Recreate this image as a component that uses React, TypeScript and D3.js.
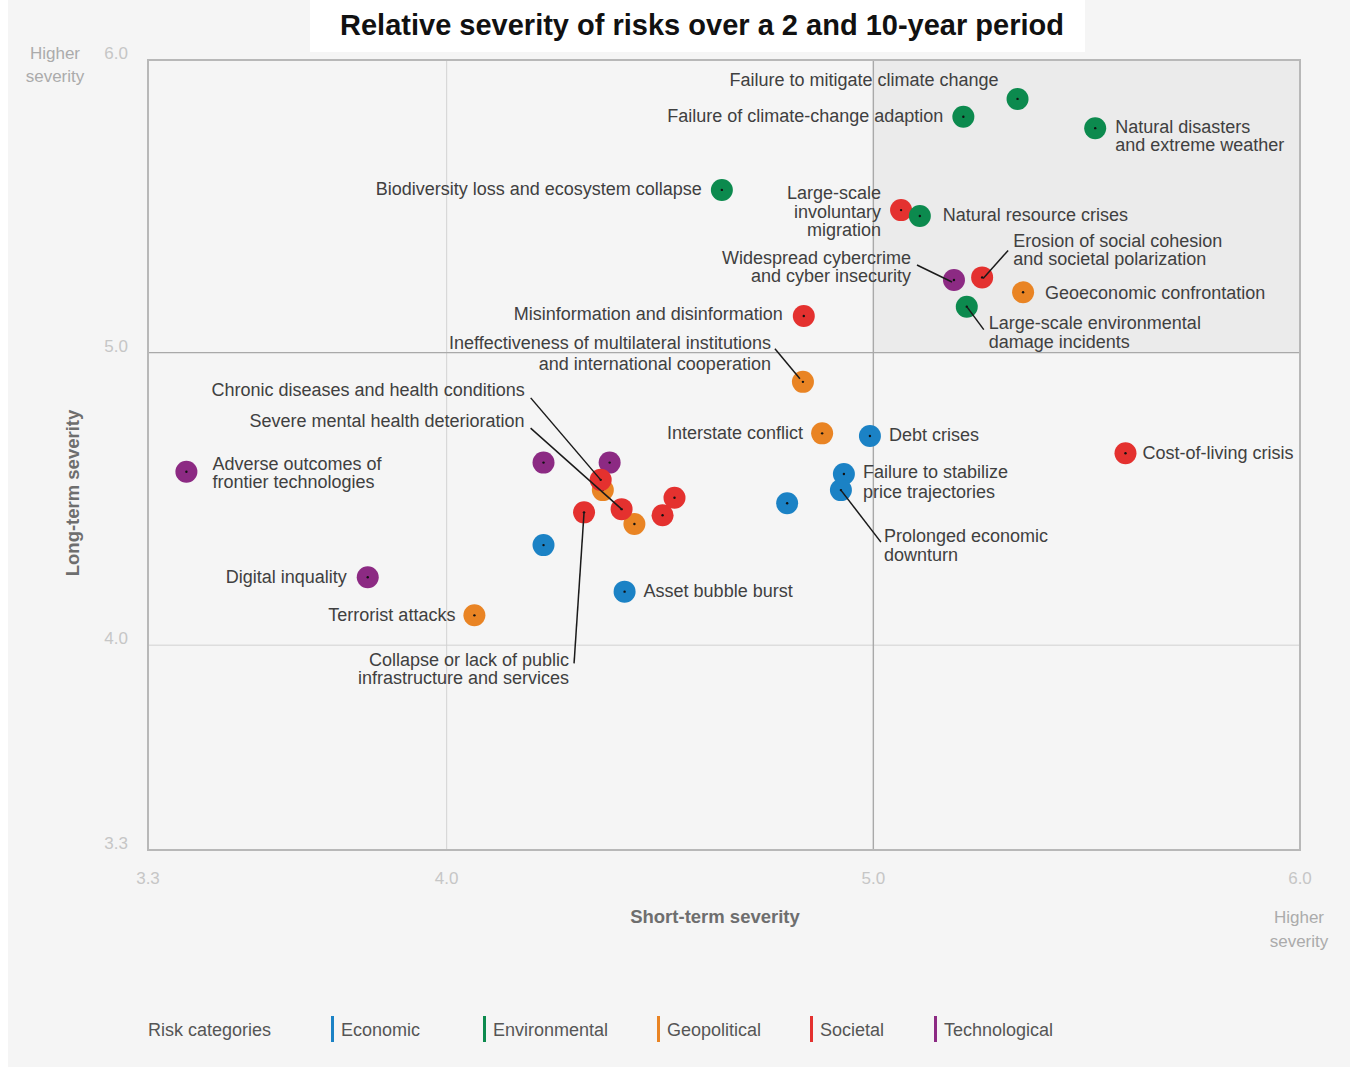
import * as d3 from "d3";
import React from "react";

// risk categories and their colours
const categories = ["Economic", "Environmental", "Geopolitical", "Societal", "Technological"];
const categoryColors = ["#1b82c5", "#0c8a4e", "#e98424", "#e4312f", "#8c2a83"];

// one entry per risk (draw order matters for overlaps)
const riskNames = [
  "Failure to mitigate climate change",
  "Failure of climate-change adaption",
  "Natural disasters and extreme weather",
  "Biodiversity loss and ecosystem collapse",
  "Large-scale involuntary migration",
  "Natural resource crises",
  "Widespread cybercrime and cyber insecurity",
  "Erosion of social cohesion and societal polarization",
  "Geoeconomic confrontation",
  "Large-scale environmental damage incidents",
  "Misinformation and disinformation",
  "Ineffectiveness of multilateral institutions and international cooperation",
  "Interstate conflict",
  "Debt crises",
  "Cost-of-living crisis",
  "Failure to stabilize price trajectories",
  "Prolonged economic downturn",
  "Proliferation of illicit economic activity",
  "Asset bubble burst",
  "Collapse of a systemically important supply chain",
  "Adverse outcomes of frontier technologies",
  "Digital inquality",
  "Terrorist attacks",
  "Digital power concentration",
  "Breakdown of critical information infrastructure",
  "Use of weapons of mass destruction",
  "Chronic diseases and health conditions",
  "State collapse",
  "Severe mental health deterioration",
  "Collapse or lack of public infrastructure and services",
  "Employment crises",
  "Infectious diseases",
];
const riskCategory = [
  1, 1, 1, 1, 3, 1, 4, 3, 2, 1, 3, 2, 2, 0, 3, 0,
  0, 0, 0, 0, 4, 4, 2, 4, 4, 2, 3, 2, 3, 3, 3, 3,
];
const shortTerm = [
  5.338, 5.211, 5.52, 4.645, 5.065, 5.109, 5.189, 5.255, 5.351, 5.219, 4.837, 4.835, 4.88, 4.992, 5.591, 4.931,
  4.924, 4.798, 4.417, 4.227, 3.39, 3.815, 4.065, 4.227, 4.382, 4.366, 4.361, 4.44, 4.41, 4.322, 4.506, 4.534,
];
const longTerm = [
  5.867, 5.806, 5.767, 5.556, 5.487, 5.467, 5.248, 5.257, 5.206, 5.157, 5.125, 4.9, 4.724, 4.715, 4.656, 4.585,
  4.53, 4.485, 4.183, 4.342, 4.593, 4.232, 4.102, 4.624, 4.624, 4.53, 4.565, 4.414, 4.465, 4.454, 4.444, 4.504,
];

// label text shown on the chart (null = unlabelled)
const labelLines: (string[] | null)[] = [
  ["Failure to mitigate climate change"],
  ["Failure of climate-change adaption"],
  ["Natural disasters", "and extreme weather"],
  ["Biodiversity loss and ecosystem collapse"],
  ["Large-scale", "involuntary", "migration"],
  ["Natural resource crises"],
  ["Widespread cybercrime", "and cyber insecurity"],
  ["Erosion of social cohesion", "and societal polarization"],
  ["Geoeconomic confrontation"],
  ["Large-scale environmental", "damage incidents"],
  ["Misinformation and disinformation"],
  ["Ineffectiveness of multilateral institutions", "and international cooperation"],
  ["Interstate conflict"],
  ["Debt crises"],
  ["Cost-of-living crisis"],
  ["Failure to stabilize", "price trajectories"],
  ["Prolonged economic", "downturn"],
  null,
  ["Asset bubble burst"],
  null,
  ["Adverse outcomes of", "frontier technologies"],
  ["Digital inquality"],
  ["Terrorist attacks"],
  null,
  null,
  null,
  ["Chronic diseases and health conditions"],
  null,
  ["Severe mental health deterioration"],
  ["Collapse or lack of public", "infrastructure and services"],
  null,
  null,
];

const xTicks = [3.3, 4.0, 5.0, 6.0];
const yTicks = [3.3, 4.0, 5.0, 6.0];

// label placement relative to the point (pixels)
type Lay = { dx: number; dy: number; a: "start" | "end"; lh?: number; leader?: [number, number, number, number] };
const labelLayout: Record<number, Lay> = {
  0: { dx: -19, dy: -19, a: "end" },
  1: { dx: -20, dy: -1, a: "end" },
  2: { dx: 20, dy: -1, a: "start", lh: 18 },
  3: { dx: -20, dy: -1, a: "end" },
  4: { dx: -20, dy: -17, a: "end", lh: 18.5 },
  5: { dx: 23, dy: -1, a: "start" },
  6: { dx: -43, dy: -22, a: "end", lh: 18, leader: [-37, -15, -2, 2] },
  7: { dx: 31, dy: -36, a: "start", lh: 18, leader: [26, -27, 1, 1] },
  8: { dx: 22, dy: 1, a: "start" },
  9: { dx: 22, dy: 16, a: "start", lh: 19, leader: [0, 0, 17, 23] },
  10: { dx: -21, dy: -2, a: "end" },
  11: { dx: -32, dy: -39, a: "end", lh: 21, leader: [-28, -33, -3, -3] },
  12: { dx: -19, dy: 0, a: "end" },
  13: { dx: 19, dy: -1, a: "start" },
  14: { dx: 17, dy: 0, a: "start" },
  15: { dx: 19, dy: -2, a: "start", lh: 20 },
  16: { dx: 43, dy: 46, a: "start", lh: 19, leader: [0, 0, 40, 52] },
  18: { dx: 19, dy: -1, a: "start" },
  20: { dx: 26, dy: -8, a: "start", lh: 18 },
  21: { dx: -21, dy: 0, a: "end" },
  22: { dx: -19, dy: 0, a: "end" },
  26: { dx: -76, dy: -90, a: "end", leader: [-70, -82, 0, 0] },
  28: { dx: -97, dy: -88, a: "end", leader: [-91, -81, 0, 0] },
  29: { dx: -15, dy: 148, a: "end", lh: 18, leader: [0, 0, -10, 151] },
};

const legendX = [331, 483, 657, 810, 934];

export default function App() {
  const W = 1350;
  const H = 1067;
  const left = 148, right = 1300, top = 60, bottom = 850;

  const x = d3.scaleLinear().domain([3.3, 6.0]).range([left, right]);
  const y = d3.scaleLinear().domain([3.3, 6.0]).range([bottom, top]);

  const font = "'Liberation Sans', Arial, Helvetica, sans-serif";
  const labelColor = "#404040";

  return (
    <svg width={W} height={H} style={{ position: "absolute", left: 0, top: 0 }} fontFamily={font}>
      <rect x={0} y={0} width={W} height={H} fill="#fff" />
      <rect x={8} y={0} width={W - 8} height={H} fill="#f5f5f5" />

      {/* title */}
      <rect x={310} y={0} width={775} height={52} fill="#fff" />
      <text x={702} y={35} textAnchor="middle" fontSize={29} fontWeight="bold" fill="#111" textLength={724} lengthAdjust="spacingAndGlyphs">
        Relative severity of risks over a 2 and 10-year period
      </text>

      {/* shaded high/high quadrant */}
      <rect x={x(5)} y={y(6)} width={x(6) - x(5)} height={y(5) - y(6)} fill="#ebebeb" />

      {/* grid */}
      {[4.0, 5.0].map((t) => (
        <g key={"g" + t}>
          <line x1={x(t)} x2={x(t)} y1={top} y2={bottom} stroke={t === 5 ? "#a9a9a9" : "#d2d2d2"} strokeWidth={t === 5 ? 1.4 : 1} />
          <line x1={left} x2={right} y1={y(t)} y2={y(t)} stroke={t === 5 ? "#a9a9a9" : "#d2d2d2"} strokeWidth={t === 5 ? 1.4 : 1} />
        </g>
      ))}
      <rect x={left} y={top} width={right - left} height={bottom - top} fill="none" stroke="#b8b8b8" strokeWidth={2} />

      {/* tick labels */}
      {yTicks.map((t) => (
        <text key={"yt" + t} x={128} y={y(t) - 1} textAnchor="end" fontSize={17} fill="#c6c6c6">
          {t.toFixed(1)}
        </text>
      ))}
      {xTicks.map((t) => (
        <text key={"xt" + t} x={x(t)} y={884} textAnchor="middle" fontSize={17} fill="#c6c6c6">
          {t.toFixed(1)}
        </text>
      ))}
      <text x={55} y={59} textAnchor="middle" fontSize={17} fill="#ababab">Higher</text>
      <text x={55} y={82} textAnchor="middle" fontSize={17} fill="#ababab">severity</text>
      <text x={1299} y={923} textAnchor="middle" fontSize={17} fill="#ababab">Higher</text>
      <text x={1299} y={947} textAnchor="middle" fontSize={17} fill="#ababab">severity</text>

      {/* axis titles */}
      <text x={715} y={923} textAnchor="middle" fontSize={18.5} fontWeight="bold" fill="#6e6e6e">Short-term severity</text>
      <text transform="translate(79,493) rotate(-90)" textAnchor="middle" fontSize={18.5} fontWeight="bold" fill="#6e6e6e">Long-term severity</text>

      {/* points */}
      {riskNames.map((name, i) => (
        <g key={"p" + i}>
          <title>{name}</title>
          <circle cx={x(shortTerm[i])} cy={y(longTerm[i])} r={11} fill={categoryColors[riskCategory[i]]} />
          <circle cx={x(shortTerm[i])} cy={y(longTerm[i])} r={1.2} fill="#111" />
        </g>
      ))}

      {/* leaders */}
      {riskNames.map((_, i) => {
        const l = labelLayout[i];
        if (!l || !l.leader) return null;
        const px = x(shortTerm[i]), py = y(longTerm[i]);
        return (
          <line key={"ld" + i} x1={px + l.leader[0]} y1={py + l.leader[1]} x2={px + l.leader[2]} y2={py + l.leader[3]} stroke="#1a1a1a" strokeWidth={1.5} />
        );
      })}

      {/* labels */}
      {riskNames.map((_, i) => {
        const lines = labelLines[i];
        const l = labelLayout[i];
        if (!lines || !l) return null;
        const px = x(shortTerm[i]), py = y(longTerm[i]);
        const lh = l.lh ?? 18;
        return (
          <text key={"lb" + i} x={px + l.dx} textAnchor={l.a} fontSize={18} fill={labelColor}>
            {lines.map((s, k) => (
              <tspan key={k} x={px + l.dx} y={py + l.dy + 6 + k * lh}>{s}</tspan>
            ))}
          </text>
        );
      })}

      {/* legend */}
      <text x={148} y={1036} fontSize={18} fill="#555">Risk categories</text>
      {categories.map((c, i) => (
        <g key={"lg" + c}>
          <rect x={legendX[i]} y={1016} width={3} height={26} fill={categoryColors[i]} />
          <text x={legendX[i] + 10} y={1036} fontSize={18} fill="#555">{c}</text>
        </g>
      ))}
    </svg>
  );
}
